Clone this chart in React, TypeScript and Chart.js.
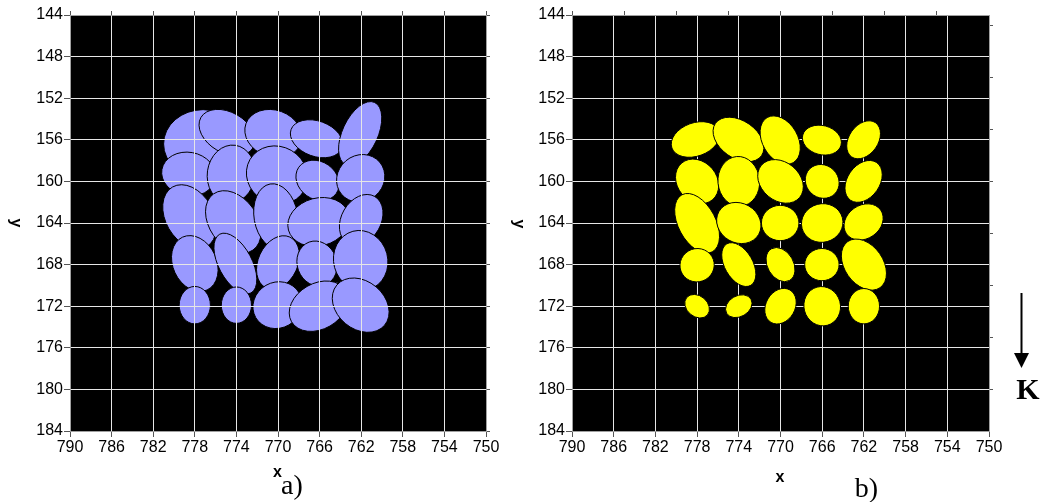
import React, { useEffect, useRef } from 'react';
import { Chart, registerables } from 'chart.js';

Chart.register(...registerables);

// ---- axis ticks ----
const xTicks = [790, 786, 782, 778, 774, 770, 766, 762, 758, 754, 750];
const yTicks = [144, 148, 152, 156, 160, 164, 168, 172, 176, 180, 184];
const bTopTicks = [790, 785, 780, 775, 770, 765, 760, 755];
const bRightTicks = [145, 150, 155, 160, 165, 170, 175, 180];

// ---- panel a) ellipses (centre x, centre y, semi-axis x, semi-axis y, rotation deg) ----
const aCx = [777.2, 774.9, 770.45, 766.3, 762.1, 778.6, 774.5, 770.1, 766.2, 762.05, 778.5, 774.3, 770.2, 766.1, 762.0, 778.0, 774.1, 770.0, 766.25, 762.05, 778.0, 774.0, 770.06, 766.1, 762.05];
const aCy = [156.4, 155.3, 155.4, 155.9, 155.4, 159.3, 159.3, 159.4, 159.9, 159.7, 163.4, 163.9, 163.4, 163.9, 163.7, 167.9, 167.9, 167.8, 167.9, 167.6, 171.9, 171.9, 171.9, 172.0, 171.9];
const aRx = [3.8, 2.9, 2.8, 2.6, 3.3, 2.6, 2.3, 3.0, 2.2, 2.4, 3.3, 3.3, 2.1, 3.0, 2.6, 2.8, 3.2, 2.7, 1.9, 2.6, 1.5, 1.45, 2.4, 3.0, 3.0];
const aRy = [3.3, 1.95, 2.25, 1.7, 1.7, 2.1, 2.8, 2.75, 1.8, 2.2, 2.3, 2.3, 3.2, 2.3, 1.9, 2.1, 1.6, 1.9, 2.2, 2.9, 1.8, 1.75, 2.2, 2.2, 2.3];
const aRot = [0, 30, 20, 20, -65, 10, 8, 30, 35, -40, 60, 55, -10, -15, -60, 65, 62, -65, -20, -15, 0, 0, -30, -30, 40];

// ---- panel b) ellipses ----
const bCx = [778.16, 774.03, 770.03, 766.03, 762.03, 778.0, 774.0, 770.0, 766.0, 762.03, 778.0, 774.0, 770.03, 766.0, 762.03, 778.0, 774.0, 770.0, 766.03, 762.0, 778.0, 774.0, 770.0, 766.0, 762.0];
const bCy = [155.97, 155.97, 156.03, 156.03, 156.0, 160.0, 160.0, 160.0, 160.0, 160.0, 164.03, 164.0, 164.0, 164.0, 163.9, 168.06, 168.0, 168.0, 168.0, 168.0, 172.0, 172.0, 172.0, 172.0, 172.0];
const bRx = [2.4, 2.7, 2.5, 1.9, 2.0, 2.3, 2.0, 2.4, 1.7, 2.2, 3.1, 2.2, 1.8, 2.0, 2.0, 1.65, 2.3, 1.75, 1.65, 2.7, 1.3, 1.35, 1.8, 1.75, 1.5];
const bRy = [1.6, 1.8, 1.7, 1.4, 1.4, 1.9, 2.4, 1.85, 1.55, 1.55, 1.8, 1.9, 1.7, 1.85, 1.6, 1.6, 1.35, 1.25, 1.55, 1.85, 1.0, 1.0, 1.4, 1.9, 1.7];
const bRot = [-20, 35, 60, 15, -55, 50, -5, 40, 45, -55, 62, 30, 0, -15, -35, -20, 60, 60, 0, 55, 40, -30, -60, -15, 0];

const tickFont = { family: '"Liberation Sans", Arial, sans-serif', size: 16 };
const GRID = '#e6e6e6';
const TICKC = '#555555';
const BORDER = '#a0a0a0';

function makeEllipsePlugin(fill: string, cx: number[], cy: number[], rx: number[], ry: number[], rot: number[], under: boolean) {
  const drawAll = (chart: any) => {
    const { ctx, chartArea: a } = chart;
    const xs = chart.scales.x;
    const ys = chart.scales.y;
    ctx.save();
    ctx.beginPath();
    ctx.rect(a.left, a.top, a.width, a.height);
    ctx.clip();
    for (let i = 0; i < cx.length; i++) {
      const px = xs.getPixelForValue(cx[i]);
      const py = ys.getPixelForValue(cy[i]);
      const prx = Math.abs(xs.getPixelForValue(cx[i] + rx[i]) - px);
      const pry = Math.abs(ys.getPixelForValue(cy[i] + ry[i]) - py);
      ctx.beginPath();
      ctx.ellipse(px, py, prx, pry, (rot[i] * Math.PI) / 180, 0, Math.PI * 2);
      ctx.fillStyle = fill;
      ctx.fill();
      ctx.lineWidth = 1;
      ctx.strokeStyle = '#000000';
      ctx.stroke();
    }
    ctx.restore();
  };
  return {
    id: 'ellipses',
    beforeDraw(chart: any) {
      const { ctx, chartArea: a } = chart;
      ctx.save();
      ctx.fillStyle = '#000000';
      ctx.fillRect(a.left, a.top, a.width, a.height);
      ctx.restore();
      if (under) drawAll(chart);
    },
    afterDatasetsDraw(chart: any) {
      if (!under) drawAll(chart);
    },
  };
}

function makeScales(topTicks: number[], rightTicks: number[], leftW: number, rightW: number) {
  return {
    x: {
      type: 'linear', position: 'bottom', min: 750, max: 790, reverse: true,
      afterBuildTicks: (s: any) => { s.ticks = xTicks.map((v) => ({ value: v })); },
      ticks: { font: tickFont, color: '#000', padding: 1, maxRotation: 0, autoSkip: false },
      grid: { color: GRID, tickColor: TICKC, tickLength: 6, lineWidth: 1 },
      border: { color: BORDER },
      afterFit: (s: any) => { s.height = 71; },
    },
    y: {
      type: 'linear', position: 'left', min: 144, max: 184, reverse: true,
      afterBuildTicks: (s: any) => { s.ticks = yTicks.map((v) => ({ value: v })); },
      ticks: { font: tickFont, color: '#000', padding: 1, autoSkip: false },
      grid: { color: GRID, tickColor: TICKC, tickLength: 6, lineWidth: 1 },
      border: { color: BORDER },
      afterFit: (s: any) => { s.width = leftW; },
    },
    x2: {
      type: 'linear', position: 'top', min: 750, max: 790, reverse: true,
      afterBuildTicks: (s: any) => { s.ticks = topTicks.map((v) => ({ value: v })); },
      ticks: { display: false },
      grid: { drawOnChartArea: false, tickColor: TICKC, tickLength: 4 },
      border: { color: BORDER },
      afterFit: (s: any) => { s.height = 15; },
    },
    y2: {
      type: 'linear', position: 'right', min: 144, max: 184, reverse: true,
      afterBuildTicks: (s: any) => { s.ticks = rightTicks.map((v) => ({ value: v })); },
      ticks: { display: false },
      grid: { drawOnChartArea: false, tickColor: TICKC, tickLength: 4 },
      border: { color: BORDER },
      afterFit: (s: any) => { s.width = rightW; },
    },
  };
}

function Panel(props: {
  left: number; width: number; fill: string; under: boolean;
  cx: number[]; cy: number[]; rx: number[]; ry: number[]; rot: number[];
  topTicks: number[]; rightTicks: number[]; leftW: number; rightW: number;
}) {
  const ref = useRef<HTMLCanvasElement | null>(null);
  useEffect(() => {
    if (!ref.current) return;
    const chart = new Chart(ref.current, {
      type: 'scatter',
      data: {
        datasets: [{
          data: props.cx.map((x, i) => ({ x, y: props.cy[i] })),
          pointRadius: 0,
          pointHoverRadius: 0,
          showLine: false,
        }],
      },
      options: {
        responsive: false,
        animation: false,
        devicePixelRatio: 1,
        layout: { padding: 0 },
        plugins: { legend: { display: false }, tooltip: { enabled: false } },
        events: [],
        scales: makeScales(props.topTicks, props.rightTicks, props.leftW, props.rightW) as any,
      },
      plugins: [makeEllipsePlugin(props.fill, props.cx, props.cy, props.rx, props.ry, props.rot, props.under)],
    } as any);
    return () => chart.destroy();
  }, []);
  return (
    <canvas ref={ref} width={props.width} height={502}
      style={{ position: 'absolute', left: props.left, top: 0, width: props.width, height: 502 }} />
  );
}

const sans = '"Liberation Sans", Arial, sans-serif';
const serif = '"Liberation Serif", "Times New Roman", serif';

function Label(p: { text: string; cx: number; baseline: number; size: number; family: string; bold?: boolean; scaleX?: number; rotate?: number; cy?: number }) {
  const off = p.family === serif ? 0.8375 : 0.8465;
  if (p.rotate) {
    return (
      <div style={{
        position: 'absolute', left: p.cx - 20, top: (p.cy as number) - p.size / 2, width: 40, height: p.size,
        textAlign: 'center', fontFamily: p.family, fontSize: p.size, lineHeight: `${p.size}px`,
        fontWeight: p.bold ? 'bold' : 'normal', transform: `rotate(${p.rotate}deg)`, color: '#000',
      }}>{p.text}</div>
    );
  }
  return (
    <div style={{
      position: 'absolute', left: p.cx - 30, top: p.baseline - p.size * off, width: 60, height: p.size,
      textAlign: 'center', fontFamily: p.family, fontSize: p.size, lineHeight: `${p.size}px`,
      fontWeight: p.bold ? 'bold' : 'normal', color: '#000', whiteSpace: 'nowrap',
      transform: p.scaleX ? `scaleX(${p.scaleX})` : undefined,
    }}>{p.text}</div>
  );
}

export default function App() {
  return (
    <div style={{ position: 'absolute', left: 0, top: 0, width: 1043, height: 502, background: '#fff', overflow: 'hidden' }}>
      <Panel left={0} width={520} fill="#9999ff" under={true}
        cx={aCx} cy={aCy} rx={aRx} ry={aRy} rot={aRot}
        topTicks={xTicks} rightTicks={yTicks} leftW={70} rightW={34} />
      <Panel left={520} width={523} fill="#ffff00" under={false}
        cx={bCx} cy={bCy} rx={bRx} ry={bRy} rot={bRot}
        topTicks={bTopTicks} rightTicks={bRightTicks} leftW={52} rightW={54} />
      <Label text="y" cx={16} cy={223} baseline={0} size={16} family={sans} bold rotate={90} />
      <Label text="y" cx={519} cy={224} baseline={0} size={16} family={sans} bold rotate={90} />
      <Label text="x" cx={277.5} baseline={478} size={16} family={sans} bold />
      <Label text="x" cx={780} baseline={483} size={16} family={sans} bold />
      <Label text="a)" cx={292} baseline={494} size={28} family={serif} />
      <Label text="b)" cx={866.5} baseline={497} size={28} family={serif} />
      <Label text="K" cx={1028} baseline={399} size={30} family={serif} bold />
      <svg width={1043} height={502} style={{ position: 'absolute', left: 0, top: 0, pointerEvents: 'none' }}>
        <line x1={1021.5} y1={293} x2={1021.5} y2={356} stroke="#000" strokeWidth={2} />
        <polygon points="1014,353 1029,353 1021.5,368" fill="#000" />
      </svg>
    </div>
  );
}
